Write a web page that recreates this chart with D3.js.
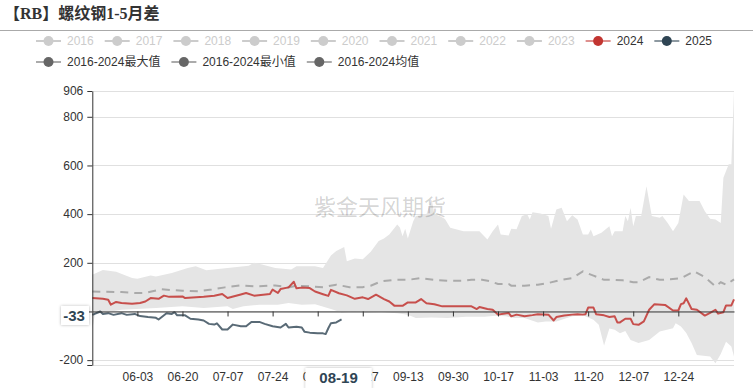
<!DOCTYPE html>
<html>
<head>
<meta charset="utf-8">
<script src="https://d3js.org/d3.v7.min.js"></script>
<style>
  body { margin: 0; background: #fff; }
  svg { display: block; }
  text { font-family: "Liberation Sans", "Noto Sans CJK SC", sans-serif; }
</style>
</head>
<body>
<svg id="chart" width="753" height="388"></svg>
<script>
/* global d3 */
// categories: every calendar day from 05-17 to 01-14
const startDay = new Date(2024, 4, 17);
const endDay = new Date(2025, 0, 15);
const categories = d3.timeDay.range(startDay, endDay).map(d3.timeFormat("%m-%d"));

const tickLabels = ["06-03", "06-20", "07-07", "07-24", "08-10", "08-27", "09-13",
  "09-30", "10-17", "11-03", "11-20", "12-07", "12-24"];
const yTicks = [-220, -200, 0, 200, 400, 600, 800, 906];

const legendYears = ["2016", "2017", "2018", "2019", "2020", "2021", "2022", "2023", "2024", "2025"];
const legendStats = ["2016-2024最大值", "2016-2024最小值", "2016-2024均值"];

// [date, value]
const s2024 = [["05-17",55],["05-21",52],["05-23",48],["05-24",28],["05-26",39],["05-28",35],["06-01",32],
  ["06-04",35],["06-06",41],["06-08",55],["06-11",52],["06-13",65],["06-15",60],["06-20",62],["06-21",55],
  ["06-28",60],["07-02",65],["07-05",72],["07-07",55],["07-12",70],["07-14",76],["07-17",65],["07-23",72],
  ["07-24",90],["07-26",76],["07-27",92],["07-30",99],["08-01",122],["08-02",95],["08-04",98],["08-07",96],
  ["08-09",82],["08-12",71],["08-14",64],["08-15",89],["08-18",75],["08-21",66],["08-24",52],["08-27",58],
  ["08-29",51],["09-01",69],["09-04",51],["09-06",41],["09-08",23],["09-11",23],["09-13",37],["09-16",37],
  ["09-18",51],["09-20",34],["09-23",30],["09-26",21],["10-07",21],["10-09",10],["10-10",18],["10-13",10],
  ["10-15",7],["10-17",-13],["10-19",-9],["10-21",-6],["10-22",-20],["10-24",-13],["10-27",-20],["10-30",-15],
  ["11-01",-11],["11-05",-13],["11-07",-37],["11-08",-23],["11-11",-17],["11-14",-13],["11-16",-11],
  ["11-18",-13],["11-19",-11],["11-20",16],["11-22",16],["11-23",-11],["11-26",-16],["11-28",-23],
  ["11-30",-20],["12-01",-45],["12-02",-45],["12-04",-30],["12-06",-30],["12-07",-52],["12-09",-55],
  ["12-11",-41],["12-13",7],["12-15",30],["12-19",27],["12-22",4],["12-24",4],["12-25",30],["12-26",34],
  ["12-27",54],["12-29",10],["12-31",7],["01-03",-17],["01-05",-6],["01-07",7],["01-08",-9],["01-10",-3],
  ["01-11",25],["01-13",25],["01-14",50]];

const s2025 = [["05-17",-14],["05-20",0],["05-21",-10],["05-23",-7],["05-25",-14],["05-28",-7],["05-30",-14],
  ["06-02",-10],["06-04",-19],["06-07",-23],["06-10",-26],["06-11",-33],["06-14",-7],["06-16",-10],
  ["06-17",-3],["06-18",-16],["06-21",-16],["06-23",-30],["06-26",-33],["06-28",-37],["06-30",-51],
  ["07-02",-54],["07-03",-49],["07-05",-74],["07-07",-74],["07-09",-54],["07-12",-61],["07-14",-61],
  ["07-16",-43],["07-19",-43],["07-21",-51],["07-24",-61],["07-27",-66],["07-29",-51],["07-30",-66],
  ["08-02",-63],["08-04",-66],["08-05",-83],["08-07",-87],["08-10",-90],["08-12",-90],["08-13",-93],
  ["08-14",-69],["08-15",-48],["08-17",-45],["08-19",-33]];

const sMean = [["05-17",82],["05-28",80],["06-02",76],["06-06",76],["06-12",91],["06-20",85],["06-26",83],
  ["07-01",90],["07-06",99],["07-12",107],["07-17",103],["07-25",107],["07-30",99],["08-02",106],
  ["08-07",103],["08-12",100],["08-17",110],["08-22",100],["08-27",100],["08-30",106],["09-03",124],
  ["09-08",130],["09-13",130],["09-18",137],["09-23",130],["09-28",126],["10-04",126],["10-07",130],
  ["10-11",130],["10-14",124],["10-17",113],["10-21",113],["10-22",106],["10-27",106],["11-01",110],
  ["11-05",117],["11-09",128],["11-14",137],["11-18",165],["11-22",147],["11-26",130],["11-30",130],
  ["12-03",128],["12-07",120],["12-09",120],["12-13",141],["12-17",130],["12-21",132],["12-25",137],
  ["12-30",165],["01-03",141],["01-07",103],["01-09",120],["01-11",110],["01-14",132]];

const sMax = [["05-17",151],["05-21",170],["05-26",163],["06-01",138],["06-03",134],["06-08",148],["06-10",144],
  ["06-16",158],["06-22",179],["06-25",186],["06-29",169],["07-07",179],["07-15",188],["07-17",200],
  ["07-20",193],["07-25",179],["07-31",172],["08-02",186],["08-09",186],["08-12",179],["08-15",230],
  ["08-17",248],["08-20",265],["08-21",206],["08-24",218],["08-27",215],["08-30",245],["09-02",290],
  ["09-04",300],["09-06",316],["09-09",357],["09-10",345],["09-11",309],["09-12",340],["09-13",300],
  ["09-15",370],["09-16",392],["09-20",399],["09-22",460],["09-23",399],["09-25",392],["09-27",380],
  ["09-29",344],["10-04",330],["10-10",330],["10-13",296],["10-15",330],["10-17",357],["10-18",316],
  ["10-21",312],["10-22",340],["10-24",338],["10-26",392],["10-28",399],["10-29",378],["10-30",408],
  ["11-02",403],["11-05",392],["11-06",340],["11-08",419],["11-10",426],["11-12",371],["11-14",395],
  ["11-16",378],["11-18",316],["11-20",316],["11-21",337],["11-22",309],["11-25",323],["11-28",350],
  ["11-29",309],["11-30",330],["12-03",330],["12-04",392],["12-05",371],["12-06",426],["12-07",350],
  ["12-08",392],["12-10",392],["12-12",515],["12-14",392],["12-17",385],["12-18",392],["12-20",364],
  ["12-22",330],["12-24",364],["12-26",481],["12-28",454],["01-01",454],["01-03",412],["01-05",381],
  ["01-07",378],["01-09",364],["01-10",550],["01-12",605],["01-13",605],["01-14",906]];

const sMin = [["05-17",-75],["05-18",-10],["05-20",-7],["05-28",7],["06-10",14],["06-20",21],["06-28",14],
  ["07-07",21],["07-09",10],["07-13",21],["07-19",28],["07-26",28],["07-30",35],["08-04",28],["08-09",30],
  ["08-15",10],["08-19",-4],["08-24",0],["08-28",-4],["09-03",-2],["09-09",-7],["09-13",-14],["09-16",-27],
  ["09-22",-25],["09-28",-27],["10-05",-22],["10-12",-22],["10-16",-18],["10-20",-20],["10-23",-27],
  ["10-27",-27],["11-01",-45],["11-04",-41],["11-08",-41],["11-14",-20],["11-18",-16],["11-22",-34],
  ["11-24",-55],["11-26",-140],["11-28",-70],["11-30",-75],["12-02",-90],["12-04",-80],["12-06",-117],
  ["12-09",-130],["12-13",-117],["12-17",-82],["12-22",-69],["12-23",-48],["12-25",-62],["12-27",-89],
  ["12-29",-130],["12-31",-179],["01-05",-185],["01-07",-213],["01-09",-175],["01-11",-124],
  ["01-13",-144],["01-14",-185]];

const width = 753, height = 388;
const plot = { left: 92.3, right: 734, top: 91, bottom: 365 };

const svg = d3.select("#chart");

const defs = svg.append("defs");
defs.append("filter").attr("id", "shadow").attr("x", "-30%").attr("y", "-30%")
  .attr("width", "160%").attr("height", "160%")
  .append("feDropShadow").attr("dx", 0).attr("dy", 0).attr("stdDeviation", 1.5)
  .attr("flood-color", "#000").attr("flood-opacity", 0.3);

const x = d3.scalePoint().domain(categories).range([plot.left, plot.right]);
const y = d3.scaleLinear().domain([-220, 906]).range([plot.bottom, plot.top]);

// title
svg.append("text")
  .attr("x", 4).attr("y", 19)
  .style("font-family", "'Liberation Serif', 'Noto Sans CJK SC', serif")
  .style("font-size", "16px").style("font-weight", "bold")
  .attr("fill", "#333")
  .text("【RB】螺纹钢1-5月差");

svg.append("line")
  .attr("x1", 0).attr("x2", width).attr("y1", 30.5).attr("y2", 30.5)
  .attr("stroke", "#aaa").attr("stroke-width", 1);

// legend
const legendColor = {
  "2024": "#c23531", "2025": "#2f4554",
  "2016-2024最大值": "#666", "2016-2024最小值": "#666", "2016-2024均值": "#666"
};

function drawLegend(items, yPos) {
  let lx = 36;
  items.forEach(function (name) {
    const active = legendColor[name] !== undefined;
    const c = active ? legendColor[name] : "#ccc";
    const g = svg.append("g").attr("transform", `translate(${lx},${yPos})`);
    g.append("line").attr("x1", 0).attr("x2", 25).attr("y1", 0).attr("y2", 0)
      .attr("stroke", c).attr("stroke-width", 2).attr("stroke-opacity", active ? 0.55 : 1);
    g.append("circle").attr("cx", 12.5).attr("cy", 0).attr("r", 5).attr("fill", c);
    const t = g.append("text").attr("x", 31).attr("dy", "0.35em")
      .style("font-size", "12px")
      .attr("fill", active ? "#333" : "#ccc")
      .text(name);
    lx += 31 + t.node().getComputedTextLength() + 11;
  });
}
drawLegend(legendYears, 41);
drawLegend(legendStats, 62);

// grid
svg.append("g")
  .selectAll("line")
  .data(yTicks)
  .join("line")
  .attr("x1", plot.left).attr("x2", plot.right)
  .attr("y1", d => Math.round(y(d)) + 0.5).attr("y2", d => Math.round(y(d)) + 0.5)
  .attr("stroke", "#e0e0e0");

// max/min band
const line = d3.line().x(d => x(d[0])).y(d => y(d[1]));
svg.append("path")
  .attr("d", line(sMax.concat(sMin.slice().reverse())) + "Z")
  .attr("fill", "#e5e5e5");

// watermark
svg.append("text")
  .attr("x", 380).attr("y", 215)
  .attr("text-anchor", "middle")
  .style("font-family", "'Noto Sans CJK SC', sans-serif")
  .style("font-size", "22px")
  .attr("fill", "#000").attr("fill-opacity", 0.18)
  .text("紫金天风期货");

// mean
svg.append("path")
  .attr("d", line(sMean))
  .attr("fill", "none").attr("stroke", "#aaa").attr("stroke-width", 2)
  .attr("stroke-dasharray", "8,6");

svg.append("path")
  .attr("d", line(s2024))
  .attr("fill", "none").attr("stroke", "#c23531").attr("stroke-opacity", 0.85)
  .attr("stroke-width", 2).attr("stroke-linejoin", "round");

svg.append("path")
  .attr("d", line(s2025))
  .attr("fill", "none").attr("stroke", "#2f4554").attr("stroke-opacity", 0.8)
  .attr("stroke-width", 2).attr("stroke-linejoin", "round");

// y axis (min and zero labels are not shown; zero sits under the pointer label)
const yAxis = svg.append("g")
  .attr("transform", `translate(${plot.left},0)`)
  .call(d3.axisLeft(y).tickValues(yTicks).tickSize(5).tickSizeOuter(0).tickPadding(4)
    .tickFormat(d => (d === -220 || d === 0) ? "" : d));
yAxis.select(".domain").attr("stroke", "#333");
yAxis.selectAll(".tick line").attr("stroke", "#333");
yAxis.selectAll(".tick text").attr("fill", "#333").style("font-size", "12px");

// x axis on the zero line, labels at the bottom
const xAxis = svg.append("g")
  .attr("transform", `translate(0,${y(0)})`)
  .call(d3.axisBottom(x).tickValues(tickLabels).tickSize(5).tickSizeOuter(0).tickPadding(56));
xAxis.select(".domain").attr("stroke", "#333");
xAxis.selectAll(".tick line").attr("stroke", "#333");
xAxis.selectAll(".tick text").attr("fill", "#333").style("font-size", "12px");

// axis pointer labels for last 2025 point
const last = s2025[s2025.length - 1];
const yl = svg.append("g").attr("transform", `translate(74,${y(last[1]) - 4})`);
yl.append("rect").attr("x", -13).attr("y", -9.5).attr("width", 28).attr("height", 19)
  .attr("fill", "#fff").attr("filter", "url(#shadow)");
yl.append("text").attr("text-anchor", "middle").attr("dy", "0.36em")
  .style("font-size", "15px").style("font-weight", "bold").attr("fill", "#2f4554")
  .text(last[1]);

const xl = svg.append("g").attr("transform", `translate(${x(last[0]) - 3},378)`);
xl.append("rect").attr("x", -33).attr("y", -10).attr("width", 66).attr("height", 22)
  .attr("fill", "#fff").attr("filter", "url(#shadow)");
xl.append("text").attr("text-anchor", "middle").attr("dy", "0.36em")
  .style("font-size", "15px").style("font-weight", "bold").attr("fill", "#2f4554")
  .text(last[0]);
</script>
</body>
</html>
